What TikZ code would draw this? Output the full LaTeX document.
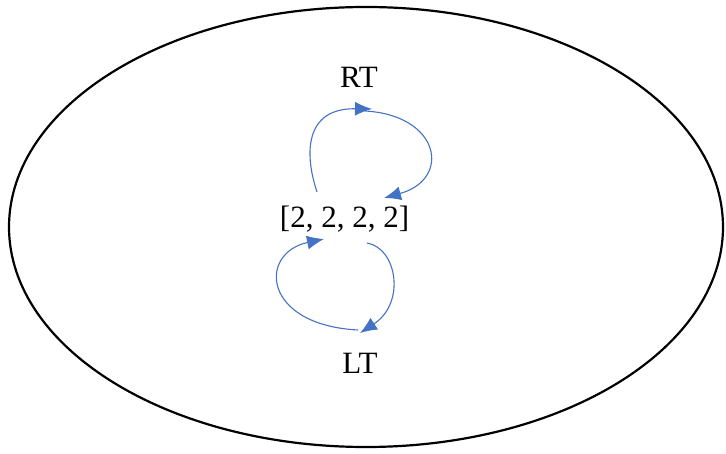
\documentclass[tikz,border=0pt]{standalone}
\usepackage{fontspec}
\setmainfont{Liberation Serif}
\usetikzlibrary{arrows.meta}
\definecolor{loopblue}{HTML}{4472C4}
\tikzset{
  lbl/.style={anchor=base, inner sep=0pt, font=\fontsize{31}{37}\selectfont},
  loopedge/.style={draw=loopblue, line width=1.1pt, -{Latex[length=17pt,width=14pt]}, fill=none},
}
\begin{document}
\begin{tikzpicture}[x=1pt,y=1pt]
\useasboundingbox (0,0) rectangle (726,453);
\draw[line width=2.2pt] (366,226) ellipse [x radius=357, y radius=220];
\node[lbl] (rt) at (359,365) {RT};
\node[lbl] (mid) at (344.5,225) {[2, 2, 2, 2]};
\node[lbl] (lt) at (360,80) {LT};
% named connector ends
\coordinate (midTL) at (317,261);
\coordinate (rtIn) at (372,344);
\coordinate (rtOut) at (365,342);
\coordinate (midTR) at (384,255);
\coordinate (midBR) at (367,210);
\coordinate (ltIn) at (360,120);
\coordinate (ltOut) at (358,123);
\coordinate (midBL) at (324,214);
\draw[loopedge] (midTL) .. controls (304,300) and (305,345) .. (rtIn);
\draw[loopedge] (rtOut) .. controls (440,338) and (452,274) .. (midTR);
\draw[loopedge] (midBR) .. controls (397,205) and (406,150) .. (ltIn);
\draw[loopedge] (ltOut) .. controls (262,128) and (258,200) .. (midBL);
\end{tikzpicture}
\end{document}
